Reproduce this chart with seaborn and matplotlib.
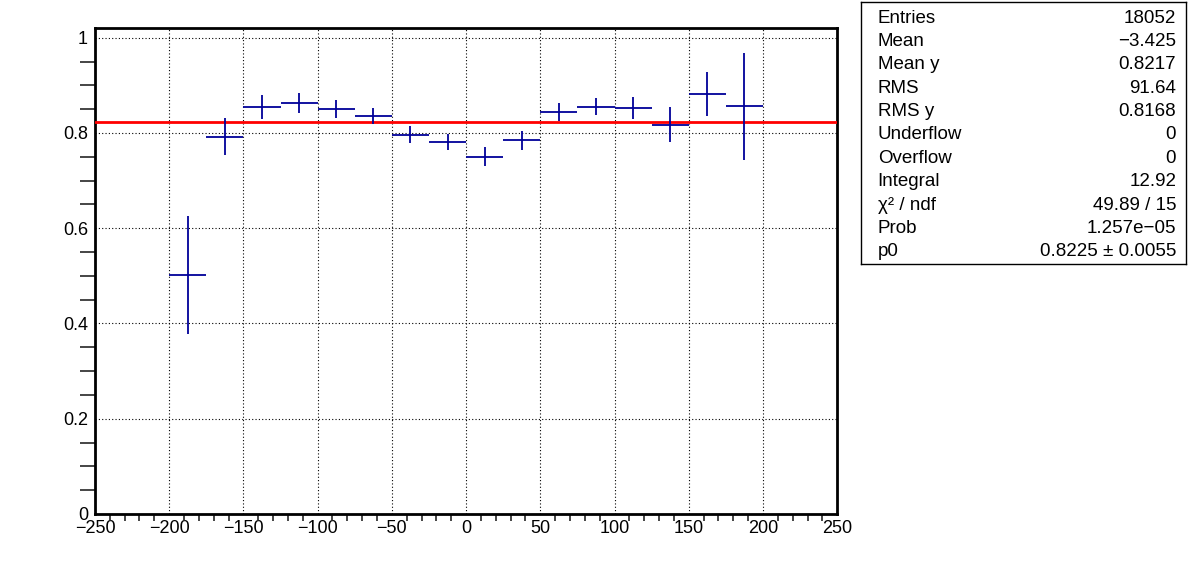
import numpy as np
import seaborn as sns
import matplotlib
matplotlib.use("Agg")
import matplotlib.pyplot as plt
from matplotlib.ticker import MultipleLocator

# profile bins (width 25)
bin_centers = [-187.5, -162.5, -137.5, -112.5, -87.5, -62.5, -37.5, -12.5,
               12.5, 37.5, 62.5, 87.5, 112.5, 137.5, 162.5, 187.5]
bin_means = [0.502, 0.792, 0.854, 0.862, 0.850, 0.835, 0.796, 0.781,
             0.750, 0.785, 0.844, 0.855, 0.852, 0.817, 0.882, 0.856]
bin_errors = [0.124, 0.039, 0.025, 0.021, 0.019, 0.017, 0.018, 0.016,
              0.020, 0.020, 0.019, 0.018, 0.023, 0.037, 0.046, 0.112]
bin_half_width = 12.5
fit_p0 = 0.8225
x_range = [-250, 250]

stat_names = ["Entries", "Mean", "Mean y", "RMS", "RMS y", "Underflow",
              "Overflow", "Integral", "\u03c7\u00b2 / ndf", "Prob", "p0"]
stat_values = ["18052", "\u22123.425", "0.8217", "91.64", "0.8168", "0",
               "0", "12.92", "49.89 / 15", "1.257e\u221205",
               "0.8225 \u00b1 0.0055"]

sns.set_theme(style="white")
plt.rcParams["font.family"] = ["Liberation Sans", "DejaVu Sans"]

fig = plt.figure(figsize=(11.96, 5.72), dpi=100)
ax = fig.add_axes([0.0794, 0.1014, 0.6206, 0.8502])

# fit line
sns.lineplot(x=x_range, y=[fit_p0, fit_p0], ax=ax, color="#ff0000",
             linewidth=2, zorder=3)

# profile points as crosses
ax.errorbar(bin_centers, bin_means, xerr=bin_half_width, yerr=bin_errors,
            fmt="none", ecolor="#000099", elinewidth=1.3, capsize=0, zorder=4)

ax.set_xlim(-250, 250)
ax.set_ylim(0, 1.021)
ax.xaxis.set_major_locator(MultipleLocator(50))
ax.xaxis.set_minor_locator(MultipleLocator(10))
ax.yaxis.set_major_locator(MultipleLocator(0.2))
ax.yaxis.set_minor_locator(MultipleLocator(0.05))
ax.set_yticks([0, 0.2, 0.4, 0.6, 0.8, 1.0])
ax.set_yticklabels(["0", "0.2", "0.4", "0.6", "0.8", "1"])

ax.grid(True, which="major", color="black", linestyle=(0, (1, 2)),
        linewidth=0.8)
ax.tick_params(axis="both", which="major", direction="in", labelsize=13,
               color="black", labelcolor="black")
ax.tick_params(axis="y", which="major", length=23, width=1.2, pad=5)
ax.tick_params(axis="y", which="minor", length=11, width=1.2, left=True)
ax.tick_params(axis="x", which="major", length=10, width=1.2, pad=4)
ax.tick_params(axis="x", which="minor", length=5, width=1.2, bottom=True)
for side in ["left", "right", "top", "bottom"]:
    ax.spines[side].set_visible(True)
    ax.spines[side].set_color("black")
    ax.spines[side].set_linewidth(2)

# stats box
box = fig.add_axes([0.7203, 0.5385, 0.2713, 0.458])
box.set_xlim(0, 1)
box.set_ylim(0, 1)
box.set_xticks([])
box.set_yticks([])
for side in box.spines.values():
    side.set_visible(True)
    side.set_color("black")
    side.set_linewidth(1)
box_px = 262.0
for i, (name, val) in enumerate(zip(stat_names, stat_values)):
    yy = 1 - (16 + i * 23.4) / box_px
    box.text(0.05, yy, name, ha="left", va="center", fontsize=13.5,
             color="black")
    box.text(0.97, yy, val, ha="right", va="center", fontsize=13.5,
             color="black")

fig.savefig("out.png", dpi=100)
